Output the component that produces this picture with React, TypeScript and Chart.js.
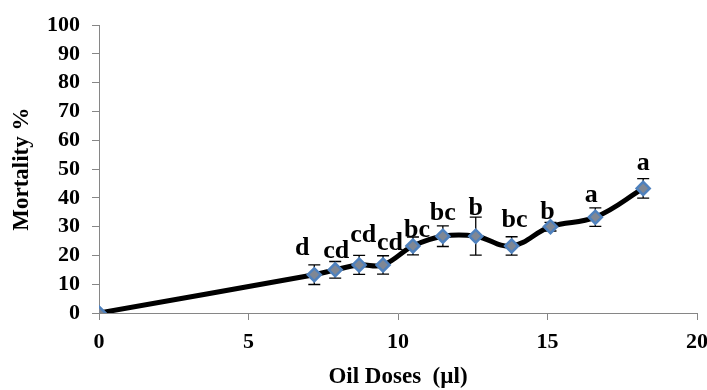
import React, { useEffect, useRef } from "react";
import { Chart, registerables } from "chart.js";

Chart.register(...registerables);

const doses = [0, 7.2, 7.9, 8.7, 9.5, 10.5, 11.5, 12.6, 13.8, 15.1, 16.6, 18.2];
const mortality = [0, 13.3, 15, 16.7, 16.7, 23.3, 26.7, 26.7, 23.3, 30, 33.3, 43.3];
const errors = [0, 3.4, 2.9, 3.3, 3.2, 3.1, 3.6, 6.6, 3.2, 1.5, 3.2, 3.4];
const letters = ["", "d", "cd", "cd", "cd", "bc", "bc", "b", "bc", "b", "a", "a"];
const xTicks = [0, 5, 10, 15, 20];
const yTicks = [0, 10, 20, 30, 40, 50, 60, 70, 80, 90, 100];

// label placement tweaks (pixels relative to each point)
const labelDx = [0, -12, 1, 4, 7, 4, 0, 0, 3, -3, -4, 0];
const labelDy = [0, 20, 12, 23, 15, 9, 16, 21, 19, 8, 15, 18];

const FONT = "'Liberation Serif', 'Times New Roman', serif";

const errorBarPlugin = {
  id: "errorBars",
  beforeDatasetsDraw(chart: any) {
    const { ctx, scales } = chart;
    const xs = scales.x;
    const ys = scales.y;
    ctx.save();
    ctx.strokeStyle = "#000";
    ctx.lineWidth = 1.3;
    doses.forEach((d, i) => {
      const e = errors[i];
      if (!e) return;
      const px = xs.getPixelForValue(d);
      const top = ys.getPixelForValue(mortality[i] + e);
      const bot = ys.getPixelForValue(mortality[i] - e);
      ctx.beginPath();
      ctx.moveTo(px, top);
      ctx.lineTo(px, bot);
      ctx.moveTo(px - 6, top);
      ctx.lineTo(px + 6, top);
      ctx.moveTo(px - 6, bot);
      ctx.lineTo(px + 6, bot);
      ctx.stroke();
    });
    ctx.restore();
  },
  afterDatasetsDraw(chart: any) {
    const { ctx, scales } = chart;
    const xs = scales.x;
    const ys = scales.y;
    ctx.save();
    ctx.fillStyle = "#000";
    ctx.font = `bold 26px ${FONT}`;
    ctx.textAlign = "center";
    ctx.textBaseline = "alphabetic";
    doses.forEach((d, i) => {
      if (!letters[i]) return;
      const px = xs.getPixelForValue(d) + labelDx[i];
      const py = ys.getPixelForValue(mortality[i]) - labelDy[i];
      ctx.fillText(letters[i], px, py);
    });
    ctx.restore();
  },
};

export default function App() {
  const ref = useRef<HTMLCanvasElement | null>(null);
  useEffect(() => {
    if (!ref.current) return;
    const chart = new Chart(ref.current, {
      type: "line",
      data: {
        datasets: [
          {
            data: doses.map((d, i) => ({ x: d, y: mortality[i] })),
            borderColor: "#000",
            borderWidth: 5,
            tension: 0.4,
            pointStyle: "rectRot",
            pointRadius: 6.5,
            pointBackgroundColor: "#7f8794",
            pointBorderColor: "#4f81bd",
            pointBorderWidth: 2.5,
            fill: false,
          },
        ],
      },
      options: {
        animation: false,
        responsive: false,
        devicePixelRatio: 1,
        layout: { padding: { top: 23, right: 0, left: 0, bottom: 0 } },
        plugins: { legend: { display: false }, tooltip: { enabled: false } },
        scales: {
          x: {
            type: "linear",
            min: 0,
            max: 20,
            afterBuildTicks: (s: any) => {
              s.ticks = xTicks.map((v) => ({ value: v }));
            },
            afterFit: (s: any) => {
              s.height = 77;
              s.paddingLeft = 0;
              s.paddingRight = 10;
            },
            ticks: {
              color: "#000",
              font: { family: FONT, size: 22, weight: "bold" },
              padding: 9,
              maxRotation: 0,
              autoSkip: false,
            },
            grid: {
              drawOnChartArea: false,
              drawTicks: true,
              tickLength: 7,
              color: "#868686",
            },
            border: { display: true, color: "#868686" },
            title: {
              display: true,
              text: "Oil Doses  (\u00b5l)",
              color: "#000",
              font: { family: FONT, size: 23, weight: "bold", lineHeight: 1 },
              padding: { top: 0, bottom: 1 },
            },
          },
          y: {
            type: "linear",
            min: 0,
            max: 100,
            afterBuildTicks: (s: any) => {
              s.ticks = yTicks.map((v) => ({ value: v }));
            },
            afterFit: (s: any) => {
              s.width = 99;
            },
            ticks: {
              color: "#000",
              font: { family: FONT, size: 22, weight: "bold" },
              padding: 12,
              autoSkip: false,
            },
            grid: {
              drawOnChartArea: false,
              drawTicks: true,
              tickLength: 7,
              color: "#868686",
            },
            border: { display: true, color: "#868686" },
            title: {
              display: true,
              text: "Mortality %",
              color: "#000",
              font: { family: FONT, size: 23, weight: "bold", lineHeight: 1.2 },
              padding: { top: 8, bottom: 0 },
            },
          },
        },
      },
      plugins: [errorBarPlugin],
    });
    return () => chart.destroy();
  }, []);
  return (
    <div style={{ position: "fixed", left: 0, top: 0, width: 707, height: 390, background: "#fff" }}>
      <canvas ref={ref} width={707} height={390} style={{ display: "block" }} />
    </div>
  );
}
